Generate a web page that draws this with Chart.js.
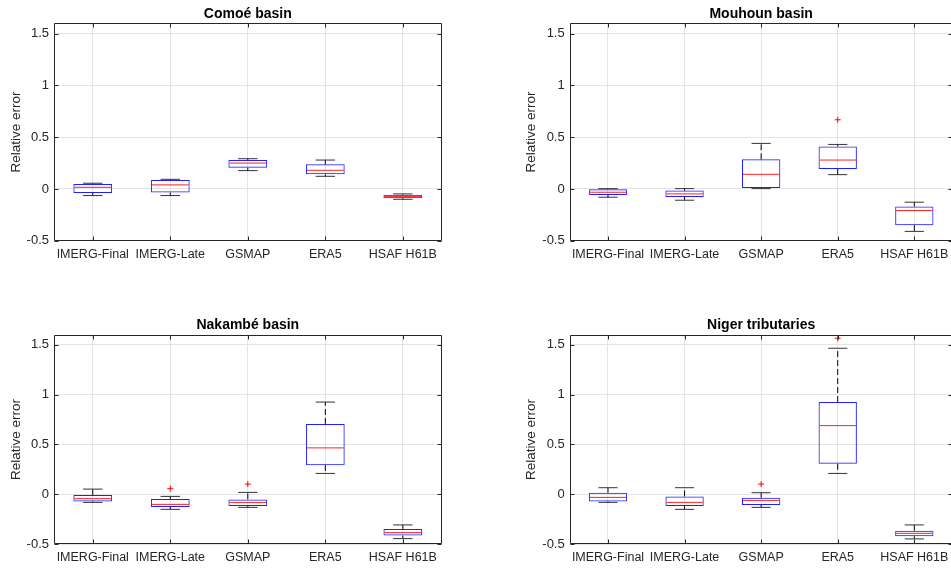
<!DOCTYPE html>
<html><head><meta charset="utf-8">
<script src="https://cdn.jsdelivr.net/npm/chart.js@4.4.1/dist/chart.umd.min.js"></script>
<style>
html,body{margin:0;padding:0;background:#fff;}
body{width:951px;height:568px;overflow:hidden;position:relative;}
.p{position:absolute;height:284px;}
.l{width:475px;}
.r{width:478px;}
canvas{display:block;}
</style></head><body>
<div class="p l" style="left:0px;top:0px"><canvas id="c0" width="475" height="284" style="width:475px;height:284px"></canvas></div>
<div class="p r" style="left:475px;top:0px"><canvas id="c1" width="478" height="284" style="width:478px;height:284px"></canvas></div>
<div class="p l" style="left:0px;top:284px"><canvas id="c2" width="475" height="284" style="width:475px;height:284px"></canvas></div>
<div class="p r" style="left:475px;top:284px"><canvas id="c3" width="478" height="284" style="width:478px;height:284px"></canvas></div>
<script>
// ---------- data ----------
const categories = ['IMERG-Final', 'IMERG-Late', 'GSMAP', 'ERA5', 'HSAF H61B'];
const yTicks = [-0.5, 0, 0.5, 1, 1.5];
const yMin = -0.5, yMax = 1.6;
const titles = ['Comoé basin', 'Mouhoun basin', 'Nakambé basin', 'Niger tributaries'];
const yLabel = 'Relative error';

// Comoé basin
const comoeMin = [-0.064, -0.064, 0.177, 0.122, -0.100];
const comoeQ1  = [-0.039, -0.035, 0.205, 0.141, -0.090];
const comoeMed = [ 0.016,  0.039, 0.250, 0.180, -0.074];
const comoeQ3  = [ 0.048,  0.087, 0.279, 0.238, -0.055];
const comoeMax = [ 0.055,  0.093, 0.292, 0.279, -0.048];
const comoeOut = [];

// Mouhoun basin
const mouhounMin = [-0.080, -0.109, 0.003, 0.138, -0.410];
const mouhounQ1  = [-0.058, -0.077, 0.010, 0.193, -0.350];
const mouhounMed = [-0.032, -0.048, 0.141, 0.279, -0.209];
const mouhounQ3  = [-0.003, -0.016, 0.286, 0.411, -0.170];
const mouhounMax = [ 0.003,  0.003, 0.440, 0.430, -0.128];
const mouhounOut = [{x: 'ERA5', y: 0.668}];

// Nakambé basin
const nakambeMin = [-0.080, -0.150, -0.130, 0.210, -0.443];
const nakambeQ1  = [-0.070, -0.126, -0.117, 0.293, -0.413];
const nakambeMed = [-0.043, -0.100, -0.080, 0.466, -0.383];
const nakambeQ3  = [-0.007, -0.047, -0.050, 0.706, -0.346];
const nakambeMax = [ 0.053, -0.020,  0.020, 0.925, -0.306];
const nakambeOut = [{x: 'IMERG-Late', y: 0.057}, {x: 'GSMAP', y: 0.103}];

// Niger tributaries
const nigerMin = [-0.080, -0.150, -0.130, 0.210, -0.446];
const nigerQ1  = [-0.070, -0.117, -0.106, 0.306, -0.419];
const nigerMed = [-0.030, -0.080, -0.060, 0.689, -0.390];
const nigerQ3  = [ 0.017, -0.020, -0.033, 0.925, -0.363];
const nigerMax = [ 0.067,  0.067,  0.017, 1.464, -0.306];
const nigerOut = [{x: 'GSMAP', y: 0.103}, {x: 'ERA5', y: 1.564}];

// ---------- layout (per panel) ----------
const panels = [
  {id:'c0', title:titles[0], s:[comoeMin, comoeQ1, comoeMed, comoeQ3, comoeMax], out:comoeOut,
   yW:54, xH:43.3, padR:33.4, tTop:6, tBot:0.5, yTP:7.9},
  {id:'c1', title:titles[1], s:[mouhounMin, mouhounQ1, mouhounMed, mouhounQ3, mouhounMax], out:mouhounOut,
   yW:94.7, xH:43.3, padR:0.4, tTop:6, tBot:0.5, yTP:47.9},
  {id:'c2', title:titles[2], s:[nakambeMin, nakambeQ1, nakambeMed, nakambeQ3, nakambeMax], out:nakambeOut,
   yW:54, xH:23.7, padR:33.4, tTop:32.3, tBot:1.6, yTP:7.9},
  {id:'c3', title:titles[3], s:[nigerMin, nigerQ1, nigerMed, nigerQ3, nigerMax], out:nigerOut,
   yW:94.7, xH:23.7, padR:0.4, tTop:32.3, tBot:1.6, yTP:47.9}
];

const FONT = '"Liberation Sans", Helvetica, Arial, sans-serif';
const TXT = '#262626';

function boxExtras(stats) {
  const [mn, q1, md, q3, mx] = stats;
  return {
    id: 'boxExtras',
    afterDatasetsDraw(chart) {
      const ctx = chart.ctx, xs = chart.scales.x, ys = chart.scales.y;
      const unit = xs.getPixelForValue(1) - xs.getPixelForValue(0);
      const capHalf = unit * 0.125, boxHalf = unit * 0.25;
      ctx.save();
      for (let i = 0; i < categories.length; i++) {
        const cx = xs.getPixelForValue(i);
        const pMin = ys.getPixelForValue(mn[i]), pQ1 = ys.getPixelForValue(q1[i]);
        const pMed = ys.getPixelForValue(md[i]), pQ3 = ys.getPixelForValue(q3[i]);
        const pMax = ys.getPixelForValue(mx[i]);
        ctx.strokeStyle = '#000';
        ctx.lineWidth = 1;
        ctx.setLineDash([6, 3]);
        ctx.beginPath();
        ctx.moveTo(cx, pQ3); ctx.lineTo(cx, pMax);
        ctx.moveTo(cx, pQ1); ctx.lineTo(cx, pMin);
        ctx.stroke();
        ctx.setLineDash([]);
        ctx.strokeStyle = '#333';
        ctx.beginPath();
        ctx.moveTo(cx - capHalf, pMax); ctx.lineTo(cx + capHalf, pMax);
        ctx.moveTo(cx - capHalf, pMin); ctx.lineTo(cx + capHalf, pMin);
        ctx.stroke();
        ctx.strokeStyle = '#ff2020';
        ctx.beginPath();
        ctx.moveTo(cx - boxHalf + 1, pMed); ctx.lineTo(cx + boxHalf - 1, pMed);
        ctx.stroke();
      }
      ctx.restore();
    }
  };
}

const framePlugin = {
  id: 'frame',
  afterDraw(chart) {
    const ctx = chart.ctx, a = chart.chartArea, xs = chart.scales.x, ys = chart.scales.y;
    const L = Math.round(a.left) + 0.5, R = Math.round(a.right) - 0.5;
    const T = Math.round(a.top) + 0.5, B = Math.round(a.bottom) - 0.5;
    const tl = 4;
    ctx.save();
    ctx.strokeStyle = TXT;
    ctx.lineWidth = 1;
    ctx.beginPath();
    ctx.rect(L, T, R - L, B - T);
    for (let i = 0; i < categories.length; i++) {
      const px = Math.round(xs.getPixelForValue(i)) + 0.5;
      ctx.moveTo(px, B); ctx.lineTo(px, B - tl);
      ctx.moveTo(px, T); ctx.lineTo(px, T + tl);
    }
    yTicks.forEach(v => {
      const py = Math.round(ys.getPixelForValue(v)) + 0.5;
      ctx.moveTo(L, py); ctx.lineTo(L + tl, py);
      ctx.moveTo(R, py); ctx.lineTo(R - tl, py);
    });
    ctx.stroke();
    ctx.restore();
  }
};

panels.forEach(p => {
  const [mn, q1, md, q3, mx] = p.s;
  new Chart(document.getElementById(p.id), {
    type: 'bar',
    data: {
      labels: categories,
      datasets: [
        {
          type: 'bar',
          data: categories.map((c, i) => [q1[i], q3[i]]),
          backgroundColor: 'rgba(0,0,0,0)',
          borderColor: '#2020ff',
          borderWidth: 1,
          borderSkipped: false,
          barPercentage: 0.5,
          categoryPercentage: 1,
          order: 2
        },
        {
          type: 'line',
          data: p.out,
          showLine: false,
          pointStyle: 'cross',
          pointRadius: 3,
          pointBorderColor: '#ff0000',
          pointBorderWidth: 1,
          clip: false,
          order: 1
        }
      ]
    },
    options: {
      responsive: false,
      animation: false,
      events: [],
      layout: {autoPadding: false, padding: {left: 0, right: p.padR, top: 0, bottom: 0}},
      plugins: {
        legend: {display: false},
        tooltip: {enabled: false},
        title: {
          display: true, text: p.title, fullSize: false, color: '#000',
          font: {family: FONT, size: 14, weight: 'bold', lineHeight: 1.2},
          padding: {top: p.tTop, bottom: p.tBot}
        }
      },
      scales: {
        x: {
          type: 'category',
          offset: true,
          grid: {offset: false, color: '#e4e4e4', lineWidth: 1, drawTicks: false},
          border: {display: false},
          ticks: {color: TXT, font: {family: FONT, size: 12.5}, padding: 6,
                  maxRotation: 0, minRotation: 0, autoSkip: false},
          afterFit(s) { s.height = p.xH; s.paddingLeft = 0; s.paddingRight = 0; }
        },
        y: {
          type: 'linear',
          min: yMin, max: yMax,
          afterBuildTicks(s) { s.ticks = yTicks.map(v => ({value: v})); },
          grid: {color: '#e4e4e4', lineWidth: 1, drawTicks: false},
          border: {display: false},
          ticks: {color: TXT, font: {family: FONT, size: 13}, padding: 5,
                  callback: v => String(v)},
          title: {display: true, text: yLabel, color: TXT,
                  font: {family: FONT, size: 13.5, lineHeight: 1.2},
                  padding: {top: p.yTP, bottom: 0}},
          afterFit(s) { s.width = p.yW; s.paddingTop = 0; s.paddingBottom = 0; }
        }
      }
    },
    plugins: [boxExtras(p.s), framePlugin]
  });
});
</script>
</body></html>
